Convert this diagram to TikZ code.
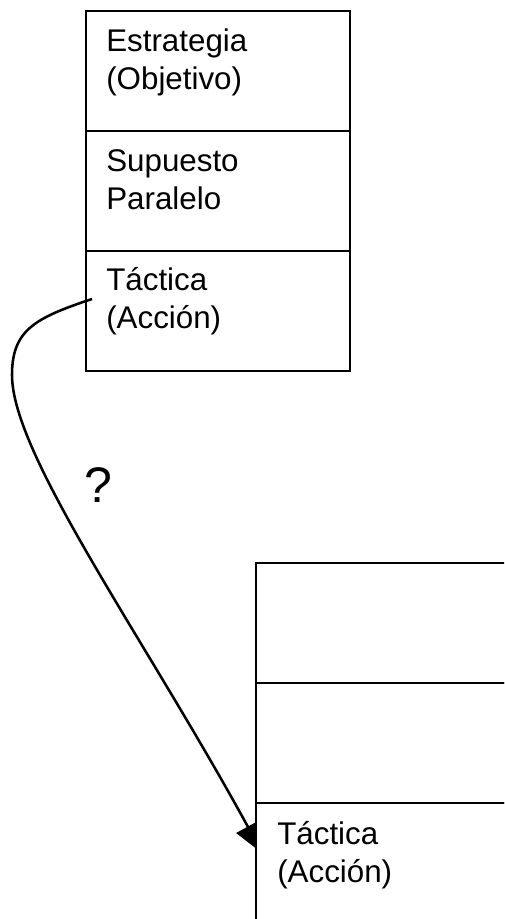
\documentclass[tikz,border=0pt]{standalone}
\usepackage{fontspec}
\setmainfont{Liberation Sans}
\usetikzlibrary{arrows.meta}
\pgfdeclarelayer{under}
\pgfsetlayers{under,main}
\begin{document}
\begin{tikzpicture}[x=0.75pt,y=-0.75pt,
  cell/.style={draw, line width=1.9pt, minimum width=198pt, minimum height=90pt,
    inner sep=0pt, outer sep=0pt, anchor=north west},
  solid cell/.style={cell, fill=white},
  lbl/.style={anchor=base west, align=left, inner sep=0pt,
    font=\fontsize{23.5}{28.2}\selectfont},
  qmark/.style={anchor=base west, inner sep=0pt, font=\fontsize{37.5}{40}\selectfont},
  conn/.style={line width=1.9pt, -{Triangle[length=23pt, width=19.5pt]}}]
\useasboundingbox (0,0) rectangle (504,919);
\clip (0,0) rectangle (504,919);

% upper stack
\node[cell] (a1) at (86,11) {};
\node[cell] (a2) at (a1.south west) {};
\node[cell] (a3) at (a2.south west) {};
% two-line labels sit on the baseline of their second line
\node[lbl] (a1t) at ([shift={(20,78.5)}]a1.north west) {Estrategia\\(Objetivo)};
\node[lbl] (a2t) at ([shift={(20,78.5)}]a2.north west) {Supuesto\\Paralelo};
\node[lbl] (a3t) at ([shift={(20,77.5)}]a3.north west) {Táctica\\(Acción)};

% lower stack
\node[solid cell] (b1) at (256,563) {};
\node[solid cell] (b2) at (b1.south west) {};
\node[solid cell] (b3) at (b2.south west) {};
\node[lbl] (b3t) at ([shift={(21,79.5)}]b3.north west) {Táctica\\(Acción)};

% question label
\node[qmark] (q) at (84,502) {?};

% link between the two tactics
\coordinate (s) at ([shift={(6,-12)}]a3.west);
\coordinate (bend) at (12,375);
\coordinate (e) at ([shift={(6.5,-9.5)}]b3.west);
\begin{pgfonlayer}{under}
\draw[conn] (s) .. controls +(-57,19) and +(0,-45) .. (bend)
  .. controls +(0,80) and +(-118,-216) .. (e);
\end{pgfonlayer}
\end{tikzpicture}
\end{document}
